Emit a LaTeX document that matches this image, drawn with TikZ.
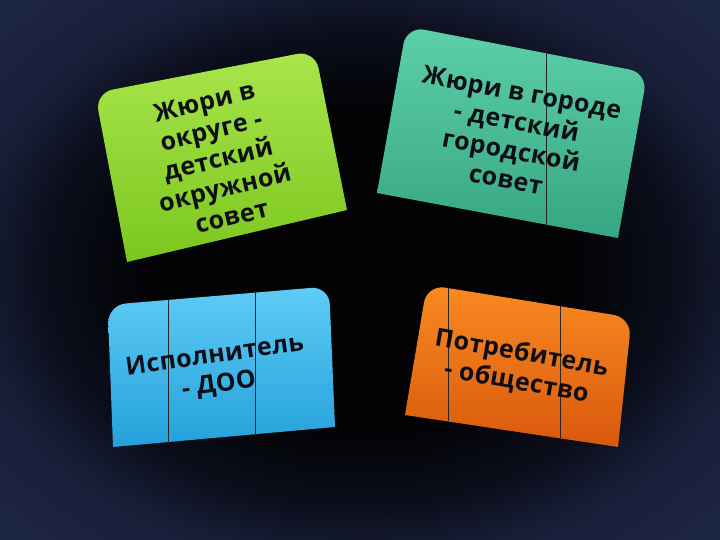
\documentclass[tikz,border=0pt]{standalone}
\usepackage{fontspec}
\setmainfont{Open Sans}
\definecolor{bgin}{HTML}{030306}
\definecolor{bgmid}{HTML}{0B0E1B}
\definecolor{bgout}{HTML}{171E38}
\definecolor{bgcorner}{HTML}{1D2644}
\definecolor{gA}{HTML}{A8E64C}
\definecolor{gB}{HTML}{7CC61E}
\definecolor{tA}{HTML}{5CD0A8}
\definecolor{tB}{HTML}{37A682}
\definecolor{bA}{HTML}{5ECCF6}
\definecolor{bB}{HTML}{24A0DA}
\definecolor{oA}{HTML}{F98A22}
\definecolor{oB}{HTML}{D9580C}
\definecolor{txt}{HTML}{0E0E16}
\pgfdeclareradialshading{bgvig}{\pgfpoint{0bp}{0bp}}{color(0bp)=(bgin); color(15bp)=(bgin); color(22bp)=(bgmid); color(27bp)=(bgout); color(35bp)=(bgcorner); color(50bp)=(bgcorner)}
\tikzset{
  cardtext/.style={align=center, text=txt, inner sep=0pt,
    font=\fontsize{25}{29.5}\selectfont\bfseries\addfontfeatures{LetterSpace=1.5}},
  divider/.style={draw=black!85, line width=0.8pt}
}
\begin{document}
\begin{tikzpicture}[x=1pt,y=-1pt]
\useasboundingbox (0,0) rectangle (720,540);
\shade[shading=bgvig] (0,0) rectangle (720,540);
% green card
\shade[top color=gA, bottom color=gB] (127,262) [rounded corners=18pt] -- (95,93) -- (315,50.5) [sharp corners] -- (347,210) -- cycle;
% teal card
\shade[top color=tA, bottom color=tB] (377,193) [rounded corners=18pt] -- (406.6,26.3) -- (647.4,73) [sharp corners] -- (618,238) -- cycle;
\coordinate (t1a) at (546,50); \coordinate (t1b) at (546,226);
\draw[divider] (t1a) -- (t1b);
% blue card
\shade[top color=bA, bottom color=bB] (113,447) [rounded corners=18pt] -- (107.7,305) -- (329.1,286.4) [sharp corners] -- (335,427) -- cycle;
\coordinate (b1a) at (168,299); \coordinate (b1b) at (168,444);
\coordinate (b2a) at (255,291); \coordinate (b2b) at (255,436);
\draw[divider] (b1a) -- (b1b);
\draw[divider] (b2a) -- (b2b);
% orange card
\shade[top color=oA, bottom color=oB] (405,415) [rounded corners=18pt] -- (427,284.7) -- (631.6,317.8) [sharp corners] -- (618,447) -- cycle;
\coordinate (o1a) at (448,288); \coordinate (o1b) at (448,421);
\coordinate (o2a) at (560,306); \coordinate (o2b) at (560,438);
\draw[divider] (o1a) -- (o1b);
\draw[divider] (o2a) -- (o2b);
% texts
\node[cardtext, rotate=13.5] (g) at (218,159) {Жюри в\\округе -\\детский\\окружной\\совет};
\node[cardtext, rotate=-10.5] (t) at (514,136) {Жюри в городе\\- детский\\городской\\совет};
\node[cardtext, rotate=8] (b) at (217,371) {Исполнитель\\- ДОО};
\node[cardtext, rotate=-10] (o) at (519,368) {Потребитель\\- общество};
\end{tikzpicture}
\end{document}
